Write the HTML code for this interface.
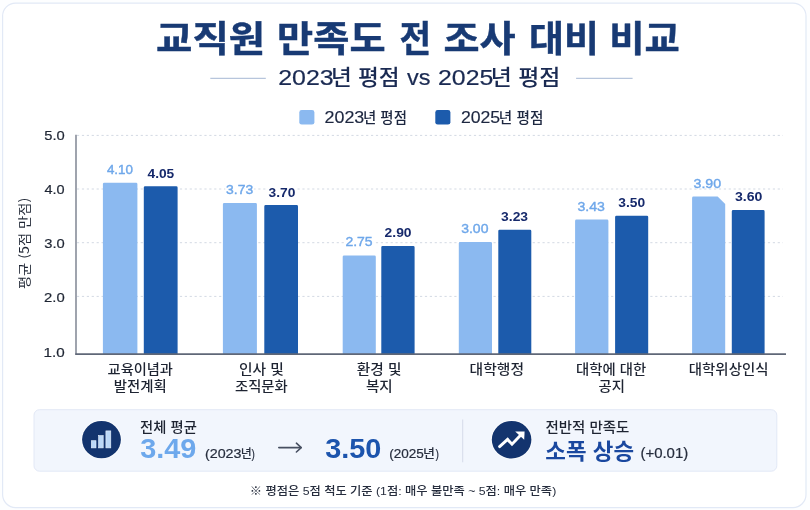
<!DOCTYPE html>
<html lang="ko">
<head>
<meta charset="utf-8">
<title>교직원 만족도 전 조사 대비 비교</title>
<style>
html,body{margin:0;padding:0;background:#fdfeff;}
body{width:810px;height:510px;overflow:hidden;}
svg{display:block;}
text,.l{font-family:"Liberation Sans","Noto Sans CJK KR",sans-serif;}
.k{font-family:"Noto Sans CJK KR","Liberation Sans",sans-serif;}
</style>
</head>
<body>
<svg width="810" height="510" viewBox="0 0 810 510">
  <rect x="2.6" y="3.1" width="803.4" height="504.5" rx="13" ry="13" fill="#ffffff" stroke="#e2e9f6" stroke-width="1.2"/>
  <line x1="210.3" y1="78.3" x2="265.8" y2="78.3" stroke="#b7c5dc" stroke-width="1.2"/>
  <line x1="576.1" y1="78.3" x2="632.6" y2="78.3" stroke="#b7c5dc" stroke-width="1.2"/>
  <rect x="299.3" y="110" width="15.1" height="14.6" rx="2.4" fill="#8bb9f0"/>
  <rect x="435.3" y="110" width="15.1" height="14.6" rx="2.4" fill="#1c5bac"/>
  <g stroke="#d3d9e3" stroke-width="1" stroke-dasharray="2.2 2.7">
    <line x1="77" y1="135.4" x2="783" y2="135.4"/>
    <line x1="77" y1="189.0" x2="783" y2="189.0"/>
    <line x1="77" y1="242.7" x2="783" y2="242.7"/>
    <line x1="77" y1="296.4" x2="783" y2="296.4"/>
  </g>
  <g fill="#ffffff"><rect x="225.3" y="183.6" width="28.8" height="11.2"/><rect x="267.5" y="186.6" width="28.8" height="11.2"/><rect x="344.7" y="236.2" width="28.8" height="11.2"/></g>
  <g fill="#8bb9f0">
    <path d="M102.9,354.1 V184.0 a1.3,1.3 0 0 1 1.3,-1.3 H136.1 a1.3,1.3 0 0 1 1.3,1.3 V354.1 Z"/>
    <path d="M222.9,354.1 V204.2 a1.3,1.3 0 0 1 1.3,-1.3 H255.6 a1.3,1.3 0 0 1 1.3,1.3 V354.1 Z"/>
    <path d="M342.7,354.1 V256.8 a1.3,1.3 0 0 1 1.3,-1.3 H374.5 a1.3,1.3 0 0 1 1.3,1.3 V354.1 Z"/>
    <path d="M458.8,354.1 V243.2 a1.3,1.3 0 0 1 1.3,-1.3 H490.7 a1.3,1.3 0 0 1 1.3,1.3 V354.1 Z"/>
    <path d="M575.1,354.1 V220.9 a1.3,1.3 0 0 1 1.3,-1.3 H607.1 a1.3,1.3 0 0 1 1.3,1.3 V354.1 Z"/>
    <path d="M692.1,354.1 V197.9 a1.3,1.3 0 0 1 1.3,-1.3 H717.6 L725.2,203.9 V354.1 Z"/>
  </g>
  <g fill="#1c5bac">
    <path d="M143.8,354.1 V187.6 a1.3,1.3 0 0 1 1.3,-1.3 H176.3 a1.3,1.3 0 0 1 1.3,1.3 V354.1 Z"/>
    <path d="M264.3,354.1 V206.4 a1.3,1.3 0 0 1 1.3,-1.3 H296.7 a1.3,1.3 0 0 1 1.3,1.3 V354.1 Z"/>
    <path d="M381.3,354.1 V247.3 a1.3,1.3 0 0 1 1.3,-1.3 H413.3 a1.3,1.3 0 0 1 1.3,1.3 V354.1 Z"/>
    <path d="M498.3,354.1 V231.0 a1.3,1.3 0 0 1 1.3,-1.3 H530.0 a1.3,1.3 0 0 1 1.3,1.3 V354.1 Z"/>
    <path d="M615.1,354.1 V217.0 a1.3,1.3 0 0 1 1.3,-1.3 H646.9 a1.3,1.3 0 0 1 1.3,1.3 V354.1 Z"/>
    <path d="M731.8,354.1 V211.4 a1.3,1.3 0 0 1 1.3,-1.3 H763.3 a1.3,1.3 0 0 1 1.3,1.3 V354.1 Z"/>
  </g>
  <line x1="76.0" y1="134.8" x2="76.0" y2="354.8" stroke="#5f6777" stroke-width="1.2"/>
  <line x1="75.3" y1="354.1" x2="786" y2="354.1" stroke="#5f6777" stroke-width="1.6"/>
  <rect x="34.0" y="409.7" width="742.8" height="61.5" rx="5.5" fill="#f2f6fd" stroke="#e2e8f6" stroke-width="1"/>
  <line x1="462.7" y1="419.5" x2="462.7" y2="462.3" stroke="#d5dbe9" stroke-width="1"/>
  <ellipse cx="101.5" cy="439.6" rx="20.2" ry="19.5" fill="#ffffff" opacity="0.85"/>
  <ellipse cx="101.5" cy="439.6" rx="19.4" ry="18.7" fill="#13346e"/>
  <g fill="#bcd8f7" stroke="#eaf3fd" stroke-width="0.6">
    <rect x="91.3" y="440.7" width="4.7" height="7.2"/><rect x="98.6" y="435.6" width="4.6" height="12.3"/><rect x="105.9" y="430.9" width="4.9" height="17"/>
  </g>
  <g stroke="#474f61" stroke-width="1.6" fill="none" stroke-linecap="round" stroke-linejoin="round"><path d="M278.8,447.6 H301"/><path d="M296.4,443.2 L301.2,447.6 L296.4,452"/></g>
  <ellipse cx="511.6" cy="439.7" rx="20.6" ry="19.6" fill="#ffffff" opacity="0.85"/>
  <ellipse cx="511.6" cy="439.7" rx="19.8" ry="18.8" fill="#13346e"/>
  <path d="M499.6,446.6 L507.6,439.4 L512,444.2 L520.3,435.4" fill="none" stroke="#ffffff" stroke-width="2.9" stroke-linecap="round" stroke-linejoin="miter"/>
  <path d="M515.2,431.6 L524.6,431.4 L524.2,439.8 Z" fill="#ffffff"/>
  <text y="51.50" font-size="36.4" fill="#183a74"><tspan class="k" x="156.12" textLength="109.04" lengthAdjust="spacingAndGlyphs" font-weight="700" stroke="#183a74" stroke-width="0.45">교직원</tspan> <tspan class="k" x="277.05" textLength="108.53" lengthAdjust="spacingAndGlyphs" font-weight="700" stroke="#183a74" stroke-width="0.45">만족도</tspan> <tspan class="k" x="399.43" textLength="31.63" lengthAdjust="spacingAndGlyphs" font-weight="700" stroke="#183a74" stroke-width="0.45">전</tspan> <tspan class="k" x="443.53" textLength="72.15" lengthAdjust="spacingAndGlyphs" font-weight="700" stroke="#183a74" stroke-width="0.45">조사</tspan> <tspan class="k" x="529.14" textLength="69.94" lengthAdjust="spacingAndGlyphs" font-weight="700" stroke="#183a74" stroke-width="0.45">대비</tspan> <tspan class="k" x="609.35" textLength="70.48" lengthAdjust="spacingAndGlyphs" font-weight="700" stroke="#183a74" stroke-width="0.45">비교</tspan></text>
  <text y="85.00" font-size="21.2" fill="#1a2a52"><tspan class="l" x="278.25" textLength="55.46" lengthAdjust="spacingAndGlyphs" stroke="#1a2a52" stroke-width="0.2" font-size="22.4">2023</tspan><tspan class="k" x="331.00" textLength="68.64" lengthAdjust="spacingAndGlyphs" font-weight="500">년 평점</tspan> <tspan class="l" x="407.07" textLength="23.47" lengthAdjust="spacingAndGlyphs" stroke="#1a2a52" stroke-width="0.2" font-size="22.4">vs</tspan> <tspan class="l" x="438.06" textLength="55.25" lengthAdjust="spacingAndGlyphs" stroke="#1a2a52" stroke-width="0.2" font-size="22.4">2025</tspan><tspan class="k" x="490.87" textLength="69.51" lengthAdjust="spacingAndGlyphs" font-weight="500">년 평점</tspan></text>
  <text y="122.60" font-size="14.6" fill="#1d2740"><tspan class="l" x="324.51" textLength="39.79" lengthAdjust="spacingAndGlyphs" stroke="#1d2740" stroke-width="0.15" font-size="15.8">2023</tspan><tspan class="k" x="363.03" textLength="43.97" lengthAdjust="spacingAndGlyphs" font-weight="500">년 평점</tspan></text>
  <text y="122.60" font-size="14.6" fill="#1d2740"><tspan class="l" x="460.92" textLength="39.27" lengthAdjust="spacingAndGlyphs" stroke="#1d2740" stroke-width="0.15" font-size="15.8">2025</tspan><tspan class="k" x="498.81" textLength="44.61" lengthAdjust="spacingAndGlyphs" font-weight="500">년 평점</tspan></text>
  <text class="l" x="44.21" textLength="20.48" lengthAdjust="spacingAndGlyphs" y="139.90" font-size="13.3" stroke="#1e2533" stroke-width="0.2" fill="#1e2533">5.0</text>
  <text class="l" x="44.51" textLength="20.17" lengthAdjust="spacingAndGlyphs" y="194.00" font-size="13.3" stroke="#1e2533" stroke-width="0.2" fill="#1e2533">4.0</text>
  <text class="l" x="44.21" textLength="20.48" lengthAdjust="spacingAndGlyphs" y="247.60" font-size="13.3" stroke="#1e2533" stroke-width="0.2" fill="#1e2533">3.0</text>
  <text class="l" x="44.06" textLength="20.64" lengthAdjust="spacingAndGlyphs" y="301.60" font-size="13.3" stroke="#1e2533" stroke-width="0.2" fill="#1e2533">2.0</text>
  <text class="l" x="43.58" textLength="21.13" lengthAdjust="spacingAndGlyphs" y="356.80" font-size="13.3" stroke="#1e2533" stroke-width="0.2" fill="#1e2533">1.0</text>
  <text class="l" x="106.93" textLength="26.06" lengthAdjust="spacingAndGlyphs" y="173.80" font-size="13.5" stroke="#6ea7ea" stroke-width="0.4" fill="#6ea7ea">4.10</text>
  <text class="l" x="147.53" textLength="26.74" lengthAdjust="spacingAndGlyphs" y="177.50" font-size="13.5" font-weight="700" fill="#16296b">4.05</text>
  <text class="l" x="226.14" textLength="27.10" lengthAdjust="spacingAndGlyphs" y="193.80" font-size="13.5" stroke="#6ea7ea" stroke-width="0.4" fill="#6ea7ea">3.73</text>
  <text class="l" x="268.62" textLength="26.81" lengthAdjust="spacingAndGlyphs" y="196.80" font-size="13.5" font-weight="700" fill="#16296b">3.70</text>
  <text class="l" x="345.40" textLength="27.25" lengthAdjust="spacingAndGlyphs" y="246.40" font-size="13.5" stroke="#6ea7ea" stroke-width="0.4" fill="#6ea7ea">2.75</text>
  <text class="l" x="384.58" textLength="26.96" lengthAdjust="spacingAndGlyphs" y="236.60" font-size="13.5" font-weight="700" fill="#16296b">2.90</text>
  <text class="l" x="461.24" textLength="27.17" lengthAdjust="spacingAndGlyphs" y="233.00" font-size="13.5" stroke="#6ea7ea" stroke-width="0.4" fill="#6ea7ea">3.00</text>
  <text class="l" x="501.12" textLength="26.98" lengthAdjust="spacingAndGlyphs" y="220.80" font-size="13.5" font-weight="700" fill="#16296b">3.23</text>
  <text class="l" x="577.44" textLength="27.42" lengthAdjust="spacingAndGlyphs" y="210.80" font-size="13.5" stroke="#6ea7ea" stroke-width="0.4" fill="#6ea7ea">3.43</text>
  <text class="l" x="618.32" textLength="26.81" lengthAdjust="spacingAndGlyphs" y="206.60" font-size="13.5" font-weight="700" fill="#16296b">3.50</text>
  <text class="l" x="693.53" textLength="27.58" lengthAdjust="spacingAndGlyphs" y="187.50" font-size="13.5" stroke="#6ea7ea" stroke-width="0.4" fill="#6ea7ea">3.90</text>
  <text class="l" x="734.92" textLength="27.44" lengthAdjust="spacingAndGlyphs" y="201.10" font-size="13.5" font-weight="700" fill="#16296b">3.60</text>
  <text class="k" x="107.59" textLength="65.34" lengthAdjust="spacingAndGlyphs" y="373.70" font-size="13.4" font-weight="500" fill="#1e2432">교육이념과</text>
  <text class="k" x="113.85" textLength="52.87" lengthAdjust="spacingAndGlyphs" y="391.20" font-size="13.4" font-weight="500" fill="#1e2432">발전계획</text>
  <text class="k" x="239.00" textLength="44.83" lengthAdjust="spacingAndGlyphs" y="373.70" font-size="13.4" font-weight="500" fill="#1e2432">인사 및</text>
  <text class="k" x="234.98" textLength="52.75" lengthAdjust="spacingAndGlyphs" y="391.20" font-size="13.4" font-weight="500" fill="#1e2432">조직문화</text>
  <text class="k" x="356.80" textLength="44.62" lengthAdjust="spacingAndGlyphs" y="373.70" font-size="13.4" font-weight="500" fill="#1e2432">환경 및</text>
  <text class="k" x="365.97" textLength="26.77" lengthAdjust="spacingAndGlyphs" y="391.20" font-size="13.4" font-weight="500" fill="#1e2432">복지</text>
  <text class="k" x="469.62" textLength="54.41" lengthAdjust="spacingAndGlyphs" y="373.70" font-size="13.4" font-weight="500" fill="#1e2432">대학행정</text>
  <text class="k" x="576.14" textLength="70.07" lengthAdjust="spacingAndGlyphs" y="373.70" font-size="13.4" font-weight="500" fill="#1e2432">대학에 대한</text>
  <text class="k" x="598.58" textLength="26.44" lengthAdjust="spacingAndGlyphs" y="391.20" font-size="13.4" font-weight="500" fill="#1e2432">공지</text>
  <text class="k" x="688.85" textLength="79.58" lengthAdjust="spacingAndGlyphs" y="373.70" font-size="13.4" font-weight="500" fill="#1e2432">대학위상인식</text>
  <text class="k" x="140.07" textLength="56.78" lengthAdjust="spacingAndGlyphs" y="432.20" font-size="13.8" font-weight="500" fill="#1e2432">전체 평균</text>
  <text class="l" x="140.22" textLength="56.13" lengthAdjust="spacingAndGlyphs" y="458.20" font-size="27.0" font-weight="700" fill="#6da8ec">3.49</text>
  <text y="457.50" font-size="12.4" fill="#262d3d"><tspan class="l" x="204.94" textLength="36.54" lengthAdjust="spacingAndGlyphs" stroke="#262d3d" stroke-width="0.2" font-size="13.2">(2023</tspan><tspan class="k" x="240.79" textLength="11.09" lengthAdjust="spacingAndGlyphs" font-weight="500">년</tspan><tspan class="l" x="251.50" textLength="3.33" lengthAdjust="spacingAndGlyphs" stroke="#262d3d" stroke-width="0.2" font-size="13.2">)</tspan></text>
  <text class="l" x="325.22" textLength="56.11" lengthAdjust="spacingAndGlyphs" y="458.20" font-size="27.0" font-weight="700" fill="#1c54ad">3.50</text>
  <text y="457.50" font-size="12.4" fill="#262d3d"><tspan class="l" x="389.19" textLength="34.62" lengthAdjust="spacingAndGlyphs" stroke="#262d3d" stroke-width="0.2" font-size="13.2">(2025</tspan><tspan class="k" x="422.90" textLength="11.97" lengthAdjust="spacingAndGlyphs" font-weight="500">년</tspan><tspan class="l" x="435.50" textLength="3.46" lengthAdjust="spacingAndGlyphs" stroke="#262d3d" stroke-width="0.2" font-size="13.2">)</tspan></text>
  <text class="k" x="545.47" textLength="83.89" lengthAdjust="spacingAndGlyphs" y="432.00" font-size="13.8" font-weight="500" fill="#1e2432">전반적 만족도</text>
  <text class="k" x="545.29" textLength="88.75" lengthAdjust="spacingAndGlyphs" y="458.60" font-size="21.2" font-weight="700" fill="#1a489f">소폭 상승</text>
  <text class="l" x="640.40" textLength="47.89" lengthAdjust="spacingAndGlyphs" y="457.60" font-size="14.0" stroke="#262d3d" stroke-width="0.2" fill="#262d3d">(+0.01)</text>
  <text class="l" x="249.78" textLength="306.45" lengthAdjust="spacingAndGlyphs" y="495.00" font-size="11.7" font-weight="500" fill="#262d3d">※ 평점은 5점 척도 기준 (1점: 매우 불만족 ~ 5점: 매우 만족)</text>
  <text class="k" transform="translate(29.1,288.4) rotate(-90)" x="-0.72" y="0" textLength="91.35" lengthAdjust="spacingAndGlyphs" font-size="12.8" fill="#1e2533">평균 (5점 만점)</text>
</svg>
</body>
</html>
